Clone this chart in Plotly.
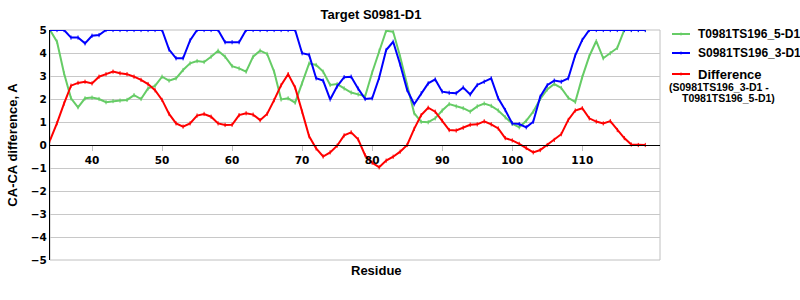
import plotly.graph_objects as go

residues = list(range(34, 120))

model_5 = [5.0, 4.49, 3.12, 2.03, 1.64, 2.03, 2.06, 2.0, 1.86, 1.91,
           1.93, 1.96, 2.17, 2.0, 2.46, 2.57, 2.97, 2.8, 2.9, 3.26,
           3.55, 3.65, 3.61, 3.84, 4.1, 3.84, 3.43, 3.33, 3.19, 3.84,
           4.1, 3.96, 3.19, 1.98, 2.03, 1.84, 2.68, 3.55, 3.48, 3.19,
           2.61, 2.65, 2.46, 2.28, 2.2, 2.12, 3.15, 4.1, 4.97, 4.92,
           3.84, 2.61, 1.38, 1.01, 0.99, 1.16, 1.5, 1.78, 1.68, 1.6,
           1.45, 1.68, 1.8, 1.7, 1.5, 1.2, 0.93, 0.77, 1.05, 1.45,
           2.0, 2.42, 2.65, 2.48, 2.05, 1.87, 2.95, 3.86, 4.52, 3.77,
           3.99, 4.22, 5.0, 5.0, 5.0, 5.0]

model_3 = [5.0, 5.0, 5.0, 4.67, 4.67, 4.42, 4.75, 4.78, 5.0, 5.0,
           5.0, 5.0, 5.0, 5.0, 5.0, 5.0, 5.0, 4.15, 3.77, 3.77,
           4.55, 5.0, 5.0, 5.0, 5.0, 4.47, 4.47, 4.47, 5.0, 5.0,
           5.0, 5.0, 5.0, 5.0, 5.0, 5.0, 3.99, 3.92, 2.9, 2.8,
           1.98, 2.55, 2.95, 2.97, 2.45, 2.0, 2.03, 2.92, 4.13, 4.49,
           3.5, 2.39, 1.77, 2.25, 2.68, 2.85, 2.32, 2.27, 2.25, 2.5,
           2.2, 2.61, 2.75, 2.9, 2.03, 1.52, 0.94, 0.91, 0.77, 1.01,
           2.1, 2.6, 2.8, 2.75, 2.9, 3.9, 4.57, 5.0, 5.0, 5.0,
           5.0, 5.0, 5.0, 5.0, 5.0, 5.0]

difference = [0.2, 0.95, 1.8, 2.58, 2.7, 2.75, 2.68, 2.97, 3.08, 3.19,
              3.12, 3.08, 2.97, 2.83, 2.65, 2.38, 1.96, 1.35, 0.94, 0.8,
              0.94, 1.28, 1.35, 1.23, 0.94, 0.87, 0.88, 1.3, 1.38, 1.32,
              1.08, 1.35, 1.95, 2.6, 3.08, 2.5, 1.45, 0.38, -0.15, -0.5,
              -0.32, -0.03, 0.42, 0.55, 0.25, -0.45, -0.77, -0.97, -0.68, -0.51,
              -0.29, 0.0, 0.7, 1.3, 1.62, 1.45, 1.05, 0.65, 0.63, 0.75,
              0.88, 0.9, 1.03, 0.9, 0.72, 0.3, 0.2, 0.05, -0.13, -0.32,
              -0.22, 0.0, 0.22, 0.47, 1.09, 1.5, 1.6, 1.16, 1.02, 0.94,
              1.04, 0.65, 0.3, 0.02, 0.0, 0.0]

series_names = ["T0981TS196_5-D1", "S0981TS196_3-D1", "Difference"]
difference_note = ["(S0981TS196_3-D1 -", "T0981TS196_5-D1)"]

x_ticks = [40, 50, 60, 70, 80, 90, 100, 110]
y_ticks = [-5, -4, -3, -2, -1, 0, 1, 2, 3, 4, 5]

GREEN = "#66cc66"
BLUE = "#0000ff"
RED = "#ff0000"
colors = [GREEN, BLUE, RED]

fig = go.Figure()

for y, name, color in zip([model_5, model_3, difference], series_names, colors):
    fig.add_trace(go.Scatter(
        x=residues, y=y, name=name, mode="lines+markers", showlegend=False,
        line=dict(color=color, width=2),
        marker=dict(symbol="line-ns-open", size=3, color=color,
                    line=dict(color=color, width=1)),
    ))

bold_tick = dict(family="DejaVu Sans", size=10.5, color="black", weight="bold")
PX_W, PX_H = 610, 230

def px_x(px):
    return (px - 50) / PX_W

def px_y(py):
    return (260 - py) / PX_H

shapes = [dict(type="rect", xref="paper", yref="paper", x0=0, x1=1, y0=0, y1=1,
               line=dict(color="#c0c0c0", width=1), layer="below")]
annotations = [
    dict(text="<b>Residue</b>", xref="paper", yref="paper",
         x=px_x(376), y=px_y(270), xanchor="center", yanchor="middle",
         showarrow=False, font=dict(size=13, family="Liberation Sans")),
]

# legend (drawn manually to match the reference's compact key)
legend_rows = [34, 53, 74]
for name, color, ry in zip(series_names, colors, legend_rows):
    shapes.append(dict(type="line", xref="paper", yref="paper",
                       x0=px_x(672), x1=px_x(690), y0=px_y(ry), y1=px_y(ry),
                       line=dict(color=color, width=2)))
    shapes.append(dict(type="line", xref="paper", yref="paper",
                       x0=px_x(681), x1=px_x(681), y0=px_y(ry - 1.5), y1=px_y(ry + 1.5),
                       line=dict(color=color, width=1)))
    annotations.append(dict(text=f"<b>{name}</b>", xref="paper", yref="paper",
                            x=px_x(696), y=px_y(ry), xanchor="left", yanchor="middle",
                            showarrow=False,
                            font=dict(size=13 if name == "Difference" else 12,
                                      family="Liberation Sans")))
annotations.append(dict(text=f"<b>{difference_note[0]}</b>", xref="paper", yref="paper",
                        x=px_x(667), y=px_y(87), xanchor="left", yanchor="middle",
                        showarrow=False, font=dict(size=10.5, family="Liberation Sans")))
annotations.append(dict(text=f"<b>{difference_note[1]}</b>", xref="paper", yref="paper",
                        x=px_x(777), y=px_y(98), xanchor="right", yanchor="middle",
                        showarrow=False, font=dict(size=10.5, family="Liberation Sans")))

fig.update_layout(
    width=800, height=300,
    margin=dict(l=50, r=140, t=30, b=40, autoexpand=False),
    paper_bgcolor="white", plot_bgcolor="white",
    font=dict(family="Liberation Sans", color="black"),
    title=dict(text="<b>Target S0981-D1</b>", font=dict(size=13, family="Liberation Sans"),
               x=px_x(371), xref="paper", xanchor="center",
               y=1 - 14 / 300, yref="container", yanchor="middle"),
    showlegend=False,
    xaxis=dict(range=[34, 121.1], tickvals=x_ticks, showgrid=False,
               anchor="free", position=0.5, showline=True, linecolor="black",
               linewidth=1, ticks="outside", ticklen=5, tickcolor="#c0c0c0",
               tickfont=bold_tick, zeroline=False),
    yaxis=dict(range=[-5, 5], tickvals=y_ticks, showgrid=True, gridcolor="#c8c8c8",
               showline=True, linecolor="black", linewidth=1, ticks="",
               zeroline=True, zerolinecolor="black", zerolinewidth=1,
               tickfont=bold_tick,
               title=dict(text="<b>CA-CA difference, A</b>",
                          font=dict(size=13, family="Liberation Sans"), standoff=10)),
    shapes=shapes,
    annotations=annotations,
)

fig.write_html("out.html")
